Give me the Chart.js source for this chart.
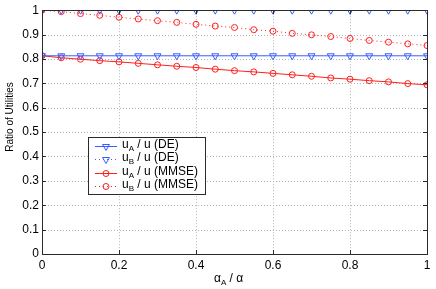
<!DOCTYPE html>
<html>
<head>
<meta charset="utf-8">
<script src="https://cdn.jsdelivr.net/npm/chart.js@4"></script>
<style>
  html, body { margin: 0; padding: 0; background: #fff; }
  #wrap { width: 436px; height: 289px; }
</style>
</head>
<body>
<div id="wrap"><canvas id="chart" width="436" height="289"></canvas></div>
<script>
// alpha_A / alpha
const alphaRatio = [0, 0.05, 0.1, 0.15, 0.2, 0.25, 0.3, 0.35, 0.4, 0.45, 0.5,
    0.55, 0.6, 0.65, 0.7, 0.75, 0.8, 0.85, 0.9, 0.95, 1];

const uaDE = [0.813, 0.813, 0.813, 0.813, 0.813, 0.813, 0.813, 0.813, 0.813, 0.813, 0.813,
    0.813, 0.813, 0.813, 0.813, 0.813, 0.813, 0.813, 0.813, 0.813, 0.813];
const ubDE = [1, 1, 1, 1, 1, 1, 1, 1, 1, 1, 1,
    1, 1, 1, 1, 1, 1, 1, 1, 1, 1];
const uaMMSE = [0.813, 0.805, 0.799, 0.793, 0.788, 0.782, 0.776, 0.770, 0.765, 0.758, 0.752,
    0.747, 0.741, 0.735, 0.729, 0.722, 0.717, 0.711, 0.706, 0.699, 0.694];
const ubMMSE = [1.0, 0.994, 0.986, 0.979, 0.971, 0.964, 0.957, 0.950, 0.942, 0.935, 0.929,
    0.920, 0.914, 0.905, 0.899, 0.892, 0.884, 0.876, 0.869, 0.862, 0.855];

const xTicks = [0, 0.2, 0.4, 0.6, 0.8, 1];
const yTicks = [0, 0.1, 0.2, 0.3, 0.4, 0.5, 0.6, 0.7, 0.8, 0.9, 1];

const blue = "#3a5cff";
const red = "#ff1f1f";
const font = "Liberation Sans, Arial, sans-serif";

function pts(ys){
    return ys.map((y, i) => ({ x: alphaRatio[i], y: y }));
}

const series = [
    { sub: "A", tail: " / u (DE)", data: uaDE, color: blue, dash: [], style: "triangle", rot: 180, r: 4 },
    { sub: "B", tail: " / u (DE)", data: ubDE, color: blue, dash: [1, 3], style: "triangle", rot: 180, r: 4 },
    { sub: "A", tail: " / u (MMSE)", data: uaMMSE, color: red, dash: [], style: "circle", rot: 0, r: 3 },
    { sub: "B", tail: " / u (MMSE)", data: ubMMSE, color: red, dash: [1, 3], style: "circle", rot: 0, r: 3 }
];

// dotted grid under the data
const grid = {
    id: "grid",
    beforeDatasetsDraw(chart){
        const ctx = chart.ctx;
        const a = chart.chartArea;
        const xs = chart.scales.x, ys = chart.scales.y;
        ctx.save();
        ctx.strokeStyle = "#b4b4b4";
        ctx.lineWidth = 1;
        ctx.setLineDash([1, 2]);
        ctx.beginPath();
        xTicks.forEach(v => {
            const px = Math.round(xs.getPixelForValue(v)) + 0.5;
            ctx.moveTo(px, a.top); ctx.lineTo(px, a.bottom);
        });
        yTicks.forEach(v => {
            const py = Math.round(ys.getPixelForValue(v)) + 0.5;
            ctx.moveTo(a.left, py); ctx.lineTo(a.right, py);
        });
        ctx.stroke();
        ctx.restore();
    }
};

// box, inside ticks, titles and legend
const decor = {
    id: "decor",
    afterDraw(chart){
        const ctx = chart.ctx;
        const a = chart.chartArea;
        const xs = chart.scales.x, ys = chart.scales.y;
        ctx.save();
        ctx.strokeStyle = "#2a2a2a";
        ctx.lineWidth = 1;
        ctx.setLineDash([]);
        ctx.beginPath();
        xTicks.forEach(v => {
            const px = Math.round(xs.getPixelForValue(v)) + 0.5;
            ctx.moveTo(px, a.bottom); ctx.lineTo(px, a.bottom - 4);
            ctx.moveTo(px, a.top); ctx.lineTo(px, a.top + 4);
        });
        yTicks.forEach(v => {
            const py = Math.round(ys.getPixelForValue(v)) + 0.5;
            ctx.moveTo(a.left, py); ctx.lineTo(a.left + 4, py);
            ctx.moveTo(a.right, py); ctx.lineTo(a.right - 4, py);
        });
        ctx.stroke();
        ctx.strokeRect(Math.round(a.left) + 0.5, Math.round(a.top) + 0.5,
            Math.round(a.right - a.left), Math.round(a.bottom - a.top));

        // y title
        ctx.fillStyle = "#000";
        ctx.font = "10px " + font;
        ctx.textAlign = "center";
        ctx.textBaseline = "middle";
        ctx.translate(10, 117);
        ctx.rotate(-Math.PI / 2);
        ctx.fillText("Ratio of Utilities", 0, 0);
        ctx.setTransform(1, 0, 0, 1, 0, 0);

        // x title with subscript
        ctx.textAlign = "left";
        ctx.textBaseline = "alphabetic";
        let x = 214;
        ctx.font = "12px " + font;
        ctx.fillText("α", x, 282);
        x += ctx.measureText("α").width;
        ctx.font = "8px " + font;
        ctx.fillText("A", x, 285);
        x += ctx.measureText("A").width;
        ctx.font = "12px " + font;
        ctx.fillText(" / α", x, 282);

        // legend
        const lx = 88.5, ly = 137.5, lw = 117, lh = 57;
        ctx.fillStyle = "#fff";
        ctx.fillRect(lx, ly, lw, lh);
        ctx.strokeStyle = "#2a2a2a";
        ctx.strokeRect(lx, ly, lw, lh);
        const rows = [146, 159, 173, 186];
        series.forEach((s, i) => {
            const y = rows[i];
            ctx.strokeStyle = s.color;
            ctx.lineWidth = 1;
            ctx.setLineDash(s.dash);
            ctx.beginPath();
            ctx.moveTo(95, y + 0.5); ctx.lineTo(117, y + 0.5);
            ctx.stroke();
            ctx.setLineDash([]);
            ctx.fillStyle = "rgba(0,0,0,0)";
            ctx.strokeStyle = s.color;
            Chart.helpers.drawPoint(ctx, {
                pointStyle: s.style, rotation: s.rot, radius: s.r, borderWidth: 1
            }, 106, y + 0.5);
            ctx.fillStyle = "#000";
            let tx = 122;
            ctx.font = "12px " + font;
            ctx.fillText("u", tx, y + 2);
            tx += ctx.measureText("u").width;
            ctx.font = "8px " + font;
            ctx.fillText(s.sub, tx, y + 5);
            tx += ctx.measureText(s.sub).width;
            ctx.font = "12px " + font;
            ctx.fillText(s.tail, tx, y + 2);
        });
        ctx.restore();
    }
};

new Chart(document.getElementById("chart"), {
    type: "line",
    data: {
        datasets: series.map(s => ({
            data: pts(s.data),
            borderColor: s.color,
            backgroundColor: "rgba(0,0,0,0)",
            borderWidth: 1,
            borderDash: s.dash,
            pointStyle: s.style,
            rotation: s.rot,
            pointRadius: s.r,
            pointBorderColor: s.color,
            pointBackgroundColor: "rgba(0,0,0,0)",
            pointBorderWidth: 1,
            tension: 0
        }))
    },
    options: {
        responsive: false,
        animation: false,
        events: [],
        layout: { padding: { top: 8, right: 9, left: 0, bottom: 0 } },
        plugins: { legend: { display: false }, tooltip: { enabled: false } },
        scales: {
            x: {
                type: "linear", min: 0, max: 1,
                afterBuildTicks: sc => { sc.ticks = xTicks.map(v => ({ value: v })); },
                afterFit: sc => { sc.height = 35; },
                grid: { display: false, drawTicks: false },
                border: { display: false },
                ticks: { padding: 4, color: "#000", font: { family: font, size: 12 }, maxRotation: 0,
                    callback: v => String(v) }
            },
            y: {
                type: "linear", min: 0, max: 1,
                afterBuildTicks: sc => { sc.ticks = yTicks.map(v => ({ value: v })); },
                afterFit: sc => { sc.width = 42; },
                grid: { display: false, drawTicks: false },
                border: { display: false },
                ticks: { padding: 3, color: "#000", font: { family: font, size: 12 },
                    callback: v => String(Math.round(v * 10) / 10) }
            }
        }
    },
    plugins: [grid, decor]
});
</script>
</body>
</html>
